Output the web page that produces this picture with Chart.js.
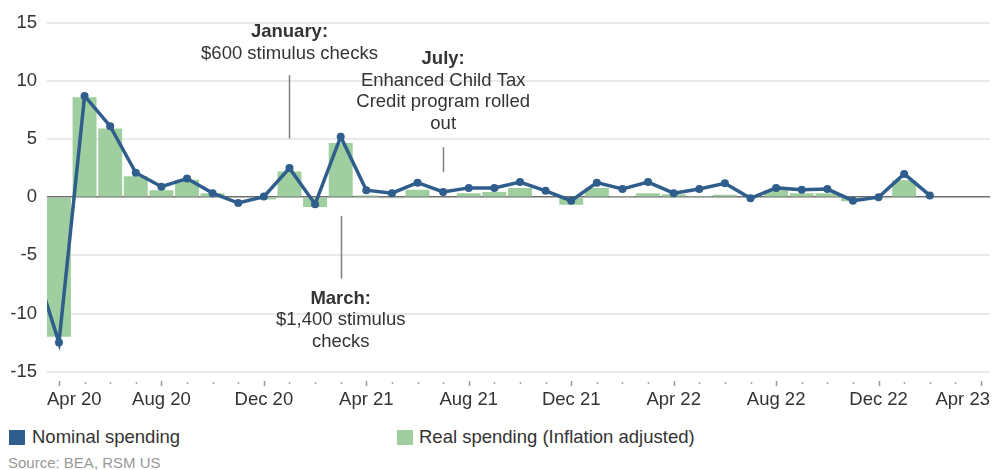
<!DOCTYPE html>
<html>
<head>
<meta charset="utf-8">
<script src="https://cdn.jsdelivr.net/npm/chart.js@4.4.1/dist/chart.umd.min.js"></script>
<style>
  body { margin: 0; background: #fff; font-family: "Liberation Sans", Arial, sans-serif; }
  #wrap { position: relative; width: 994px; height: 470px; overflow: hidden; }
  #chart { position: absolute; left: 0; top: 0; }
  .key { position: absolute; top: 427px; font-size: 18.5px; color: #333; line-height: 20px; white-space: nowrap; }
  .key i { position: absolute; left: 0; top: 3px; width: 16px; height: 15px; }
  .key span { position: absolute; top: 0; }
  #source { position: absolute; left: 8px; top: 454px; font-size: 15px; color: #999; }
</style>
</head>
<body>
<div id="wrap">
  <canvas id="chart" width="994" height="415"></canvas>
  <div class="key" style="left:9px"><i style="background:#2f5d8c"></i><span style="left:23px">Nominal spending</span></div>
  <div class="key" style="left:397px"><i style="background:#a0cf9f"></i><span style="left:22px">Real spending (Inflation adjusted)</span></div>
  <div id="source">Source: BEA, RSM US</div>
</div>
<script>
// Monthly change in consumer spending, %, Mar 2020 - Feb 2023
const months = [
  'Mar 20', 'Apr 20', 'May 20', 'Jun 20', 'Jul 20', 'Aug 20', 'Sep 20', 'Oct 20', 'Nov 20', 'Dec 20',
  'Jan 21', 'Feb 21', 'Mar 21', 'Apr 21', 'May 21', 'Jun 21', 'Jul 21', 'Aug 21', 'Sep 21', 'Oct 21', 'Nov 21', 'Dec 21',
  'Jan 22', 'Feb 22', 'Mar 22', 'Apr 22', 'May 22', 'Jun 22', 'Jul 22', 'Aug 22', 'Sep 22', 'Oct 22', 'Nov 22', 'Dec 22',
  'Jan 23', 'Feb 23'
];
const nominal = [
  -5.5, -12.5, 8.7, 6.1, 2.1, 0.9, 1.6, 0.35, -0.5, 0.05,
  2.5, -0.6, 5.2, 0.6, 0.35, 1.25, 0.45, 0.8, 0.8, 1.3, 0.55, -0.3,
  1.25, 0.7, 1.3, 0.35, 0.7, 1.2, -0.1, 0.8, 0.65, 0.7, -0.3, 0.0,
  2.0, 0.15
];
const real = [
  null, -12.0, 8.6, 5.9, 1.8, 0.6, 1.5, 0.35, 0.0, -0.2,
  2.2, -0.85, 4.65, 0.15, -0.1, 0.65, 0.0, 0.35, 0.45, 0.8, 0.05, -0.65,
  0.8, 0.1, 0.35, 0.25, 0.1, 0.2, 0.0, 0.6, 0.35, 0.35, -0.35, -0.1,
  1.45, 0.0
];
const tickLabels = ['Apr 20', 'Aug 20', 'Dec 20', 'Apr 21', 'Aug 21', 'Dec 21', 'Apr 22', 'Aug 22', 'Dec 22', 'Apr 23'];

const notes = [
  { at: 'Jan 21', title: 'January:', text: ['$600 stimulus checks'] },
  { at: 'Jul 21', title: 'July:', text: ['Enhanced Child Tax', 'Credit program rolled', 'out'] },
  { at: 'Mar 21', title: 'March:', text: ['$1,400 stimulus', 'checks'] }
];

// x is months since Apr 20; axis runs a bit past each end
const X_MIN = -0.467, X_MAX = 36.35;
const FONT = { family: '"Liberation Sans", Arial, sans-serif', size: 18.5 };
const TEXT = '#333';

const toPoints = arr => arr.map((v, i) => ({ x: i - 1, y: v }));

// where the callouts sit, in y-axis units: first text line, leader line top/bottom
const noteLayout = [
  { label: 14.2, from: 10.5, to: 5.05 },
  { label: 11.85, from: 4.3, to: 2.15 },
  { label: -8.72, from: -1.6, to: -7.0 }
];

const extras = {
  id: 'extras',
  afterDraw(chart) {
    const { ctx, chartArea: area, scales: { x, y } } = chart;
    ctx.save();

    // monthly tick marks under the plot, longer on labelled months
    ctx.strokeStyle = '#999';
    ctx.lineWidth = 1.5;
    for (let i = 0; i <= 36; i++) {
      const px = Math.round(x.getPixelForValue(i)) + 0.5;
      if (px < area.left || px > area.right) continue;
      ctx.beginPath();
      if (i % 4 === 0) {
        ctx.moveTo(px, area.bottom + 9.3);
        ctx.lineTo(px, area.bottom + 14.3);
      } else {
        ctx.moveTo(px, area.bottom + 10.6);
        ctx.lineTo(px, area.bottom + 12.4);
      }
      ctx.stroke();
    }

    // callouts
    ctx.textAlign = 'center';
    ctx.textBaseline = 'middle';
    notes.forEach((n, k) => {
      const lay = noteLayout[k];
      const px = x.getPixelForValue(months.indexOf(n.at) - 1);
      ctx.strokeStyle = '#808080';
      ctx.lineWidth = 1.5;
      ctx.beginPath();
      ctx.moveTo(Math.round(px) + 0.5, y.getPixelForValue(lay.from));
      ctx.lineTo(Math.round(px) + 0.5, y.getPixelForValue(lay.to));
      ctx.stroke();

      let py = y.getPixelForValue(lay.label);
      ctx.fillStyle = TEXT;
      ctx.font = `bold ${FONT.size}px ${FONT.family}`;
      ctx.fillText(n.title, px, py);
      ctx.font = `${FONT.size}px ${FONT.family}`;
      n.text.forEach(line => {
        py += 21.5;
        ctx.fillText(line, px, py);
      });
    });
    ctx.restore();
  }
};

new Chart(document.getElementById('chart'), {
  type: 'bar',
  data: {
    datasets: [
      {
        type: 'line',
        label: 'Nominal spending',
        data: toPoints(nominal),
        borderColor: '#2f5d8c',
        backgroundColor: '#2f5d8c',
        borderWidth: 3.5,
        pointRadius: 4,
        pointBorderWidth: 0,
        tension: 0,
        order: 1
      },
      {
        type: 'bar',
        label: 'Real spending (Inflation adjusted)',
        data: toPoints(real),
        backgroundColor: '#a0cf9f',
        categoryPercentage: 1,
        barPercentage: 0.935,
        order: 2
      }
    ]
  },
  options: {
    responsive: false,
    animation: false,
    devicePixelRatio: 1,
    layout: { padding: { top: 22.7, left: 0, right: 0, bottom: 0 } },
    plugins: { legend: { display: false }, tooltip: { enabled: false } },
    scales: {
      x: {
        type: 'linear',
        offset: false,
        min: X_MIN,
        max: X_MAX,
        grid: { display: false, offset: false },
        border: { display: false },
        afterBuildTicks(scale) {
          // labelled months; the two end labels are pinned to the plot edges
          const vals = tickLabels.map((_, i) => i * 4);
          vals[0] = X_MIN;
          vals[vals.length - 1] = X_MAX;
          scale.ticks = vals.map(v => ({ value: v }));
        },
        afterFit(scale) {
          scale.height = 43.3;
          scale.paddingLeft = 0;
          scale.paddingRight = 0;
        },
        ticks: {
          autoSkip: false,
          maxRotation: 0,
          align: 'inner',
          padding: 9,
          color: TEXT,
          font: FONT,
          callback: (v, i) => tickLabels[i]
        }
      },
      y: {
        min: -15,
        max: 15,
        border: { display: false },
        grid: {
          drawTicks: false,
          color: c => c.tick.value === 0 ? '#6e6e6e' : '#e9e9e9',
          lineWidth: c => c.tick.value === 0 ? 1.5 : 2
        },
        afterFit(scale) { scale.width = 47; },
        ticks: { stepSize: 5, padding: 10, color: TEXT, font: FONT }
      }
    }
  },
  plugins: [extras]
});
</script>
</body>
</html>
